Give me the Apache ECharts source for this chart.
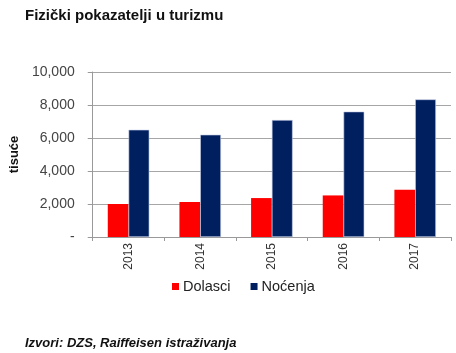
<!DOCTYPE html>
<html>
<head>
<meta charset="utf-8">
<script src="https://cdn.jsdelivr.net/npm/echarts@6/dist/echarts.min.js"></script>
<style>html,body{margin:0;padding:0;background:#fff;}#c{width:456px;height:353px;}</style>
</head>
<body>
<div id="c"></div>
<script>
var categories = ['2013', '2014', '2015', '2016', '2017'];
var dolasci = [2000, 2120, 2360, 2520, 2870];
var nocenja = [6500, 6200, 7090, 7600, 8340];
var yTicks = [0, 2000, 4000, 6000, 8000, 10000];

var chart = echarts.init(document.getElementById('c'), null, {renderer: 'canvas'});
chart.setOption({
  animation: false,
  backgroundColor: '#ffffff',
  title: [
    {text: 'Fizički pokazatelji u turizmu', left: 20, top: 3,
     textStyle: {fontFamily: 'Liberation Sans', fontWeight: 'bold', fontSize: 15, color: '#111'}},
    {text: 'Izvori: DZS, Raiffeisen istraživanja', left: 20, top: 332,
     textStyle: {fontFamily: 'Liberation Sans', fontWeight: 'bold', fontStyle: 'italic', fontSize: 13, color: '#111'}}
  ],
  legend: {
    data: ['Dolasci', 'Noćenja'],
    left: 167, top: 274,
    itemWidth: 7, itemHeight: 7, itemGap: 20,
    icon: 'rect',
    itemStyle: {borderWidth: 0},
    textStyle: {fontFamily: 'Liberation Sans', fontSize: 14.5, color: '#222', padding: [0, 0, 0, -1]}
  },
  grid: {left: 90, right: 5, top: 72, bottom: 116},
  xAxis: {
    type: 'category',
    data: categories,
    axisLine: {lineStyle: {color: '#999'}},
    axisTick: {show: true, length: 4, lineStyle: {color: '#999'}},
    axisLabel: {rotate: 90, margin: 6, fontFamily: 'Liberation Sans Narrow, Liberation Sans', fontSize: 12, color: '#333'}
  },
  yAxis: {
    type: 'value',
    min: 0, max: 10000, interval: 2000,
    name: 'tisuće',
    nameLocation: 'middle',
    nameRotate: 90,
    nameGap: 66,
    nameTextStyle: {fontFamily: 'Liberation Sans Narrow, Liberation Sans', fontWeight: 'bold', fontSize: 13, color: '#111'},
    axisLine: {show: true, lineStyle: {color: '#999'}},
    axisTick: {show: true, length: 5, lineStyle: {color: '#999'}},
    splitLine: {lineStyle: {color: '#a6a6a6'}},
    axisLabel: {
      margin: 18, fontFamily: 'Liberation Sans', fontSize: 14, color: '#444',
      formatter: function (v) { return v === 0 ? '-' : v.toLocaleString('en-US'); }
    }
  },
  series: [
    {name: 'Dolasci', type: 'bar', data: dolasci, barGap: '0%', barCategoryGap: '42%',
     itemStyle: {color: '#ff0000'}},
    {name: 'Noćenja', type: 'bar', data: nocenja,
     itemStyle: {color: '#001f5f', borderColor: '#c8d0e8', borderWidth: 0.6}}
  ]
});
</script>
</body>
</html>
